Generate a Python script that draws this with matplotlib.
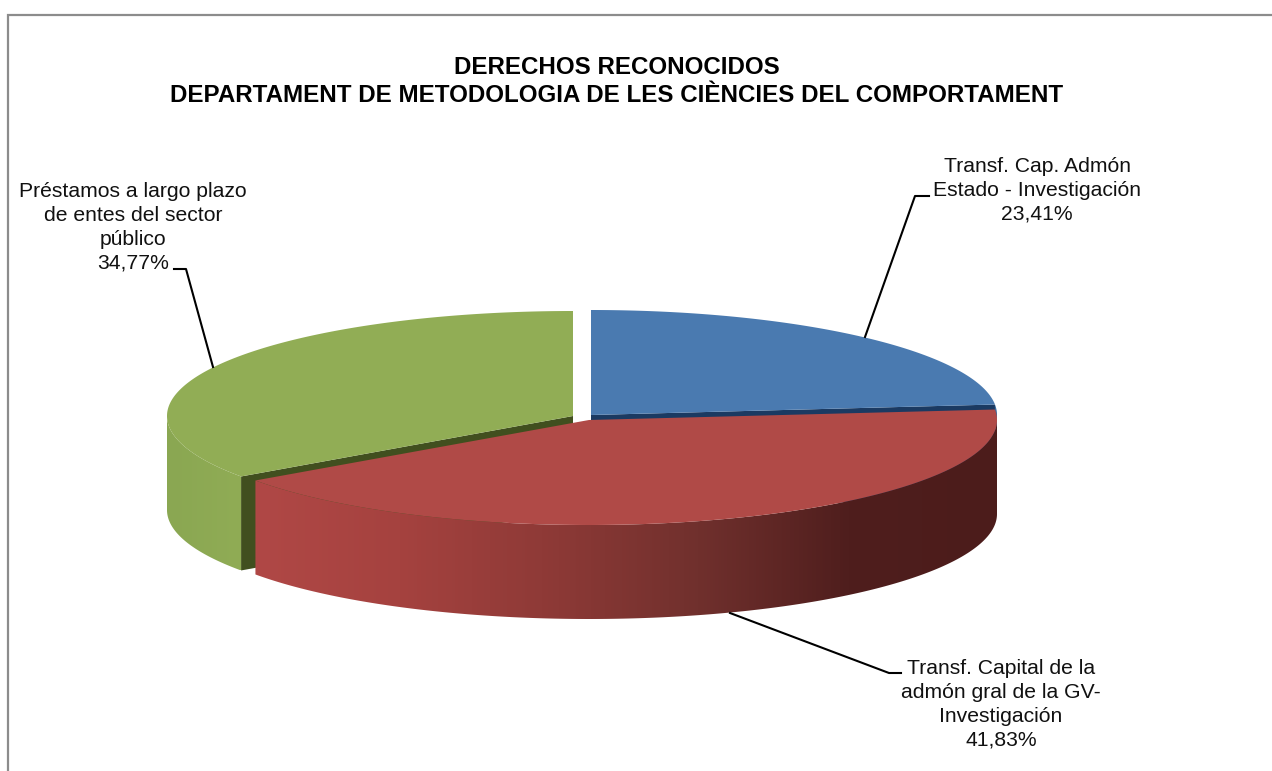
import numpy as np
import matplotlib
matplotlib.use('Agg')
import matplotlib.pyplot as plt
from matplotlib.colors import LinearSegmentedColormap
from matplotlib.patches import Polygon

# chart data
title = 'DERECHOS RECONOCIDOS\nDEPARTAMENT DE METODOLOGIA DE LES CIÈNCIES DEL COMPORTAMENT'
names = ['Transf. Cap. Admón\nEstado - Investigación',
         'Transf. Capital de la\nadmón gral de la GV-\nInvestigación',
         'Préstamos a largo plazo\nde entes del sector\npúblico']
values = [23.41, 41.83, 34.77]

# look of the slices
top_colors = ['#4a7ab0', '#b04a47', '#91ad55']
wall_colors = ['#1b3a62', '#4f1e1c', '#414f1f']
centers = [(591, 415), (589, 420), (573, 416)]
rx = [406, 408, 406]
ry = 105
depth = 94

plt.rcParams['font.family'] = ['Liberation Sans', 'DejaVu Sans']

fig = plt.figure(figsize=(12.72, 7.71), dpi=100)
ax = fig.add_axes([0, 0, 1, 1])
ax.set_xlim(0, 1272)
ax.set_ylim(771, 0)
ax.axis('off')


def arc(cx, cy, r, a0, a1, n=200):
    # angles in degrees, clockwise from the top of the ellipse
    a = np.radians(np.linspace(a0, a1, n))
    return np.column_stack([cx + r * np.sin(a), cy - ry * np.cos(a)])


def side_shape(i, a0, a1):
    cx, cy = centers[i]
    upper = arc(cx, cy, rx[i], a0, a1)
    lower = upper + [0, depth]
    return np.vstack([upper, lower[::-1]])


def gradient_side(points, stops, zorder):
    # horizontal gradient clipped to the outer wall of a slice
    x0, x1 = points[:, 0].min(), points[:, 0].max()
    y0, y1 = points[:, 1].min(), points[:, 1].max()
    xs = np.linspace(x0, x1, 600)
    s0, s1 = stops[0][0], stops[-1][0]
    pos = [(s[0] - s0) / (s1 - s0) for s in stops]
    cmap = LinearSegmentedColormap.from_list('side', list(zip(pos, [s[1] for s in stops])))
    im = ax.imshow(xs[None, :], extent=(x0, x1, y1, y0), cmap=cmap, vmin=s0, vmax=s1,
                   aspect='auto', zorder=zorder)
    clip = Polygon(points, closed=True, transform=ax.transData, fc='none', ec='none')
    ax.add_patch(clip)
    im.set_clip_path(clip)


edges = np.concatenate([[0], np.cumsum(values) / np.sum(values) * 360])

# green slice, at the back on the left
i = 2
cx, cy = centers[i]
corner = arc(cx, cy, rx[i], edges[i], edges[i], 1)[0]
ax.add_patch(Polygon([(cx, cy), corner, corner + [0, depth], (cx, cy + depth)],
                     fc=wall_colors[i], ec='none', zorder=2))
gradient_side(side_shape(i, edges[i], 270),
              [(167, '#8aa752'), (241, '#90ac55')], 3)
ax.add_patch(Polygon(np.vstack([[(cx, cy)], arc(cx, cy, rx[i], edges[i], edges[i + 1])]),
                     fc=top_colors[i], ec='none', zorder=4))

# blue slice
i = 0
cx, cy = centers[i]
tip = arc(cx, cy, rx[i], edges[i + 1], edges[i + 1], 1)[0]
ax.add_patch(Polygon([(cx, cy), tip, tip + [0, depth], (cx, cy + depth)],
                     fc=wall_colors[i], ec='none', zorder=2))
ax.add_patch(Polygon(side_shape(i, edges[i + 1], 90), fc='#3b6a9c', ec='none', zorder=3))
ax.add_patch(Polygon(np.vstack([[(cx, cy)], arc(cx, cy, rx[i], edges[i], edges[i + 1])]),
                     fc=top_colors[i], ec='none', zorder=4))

# red slice, pulled to the front
i = 1
cx, cy = centers[i]
gradient_side(side_shape(i, 90, edges[i + 1]),
              [(255, '#b04846'), (400, '#a5423f'), (560, '#8c3936'),
               (700, '#70302d'), (850, '#4f1e1d'), (997, '#4c1c1b')], 5)
ax.add_patch(Polygon(np.vstack([[(cx, cy)], arc(cx, cy, rx[i], edges[i], edges[i + 1])]),
                     fc=top_colors[i], ec='none', zorder=6))

# frame is open at the right and the bottom
ax.plot([8, 8, 1272], [771, 14.5, 14.5], color='#8c8c8c', lw=1.6, solid_joinstyle='miter', zorder=1)

ax.text(617, 81.5, title, ha='center', va='center', fontsize=17.4, fontweight='bold',
        color='black', linespacing=1.27)

# labels with their leader lines
label_pos = [(1037, 190.5), (1001, 704.5), (133, 227.5)]
leaders = [([865, 915, 929], [337, 196, 196]),
           ([730, 889, 901], [613, 673, 673]),
           ([213, 186, 174], [367, 269, 269])]
for name, val, pos, lead in zip(names, values, label_pos, leaders):
    ax.plot(lead[0], lead[1], color='black', lw=1.5, zorder=7)
    text = name + '\n' + f'{val:.2f}'.replace('.', ',') + '%'
    ax.text(pos[0], pos[1], text, ha='center', va='center', fontsize=15.2,
            color='#111111', linespacing=1.32, zorder=8)

fig.savefig('out.png', dpi=100, facecolor='white')
